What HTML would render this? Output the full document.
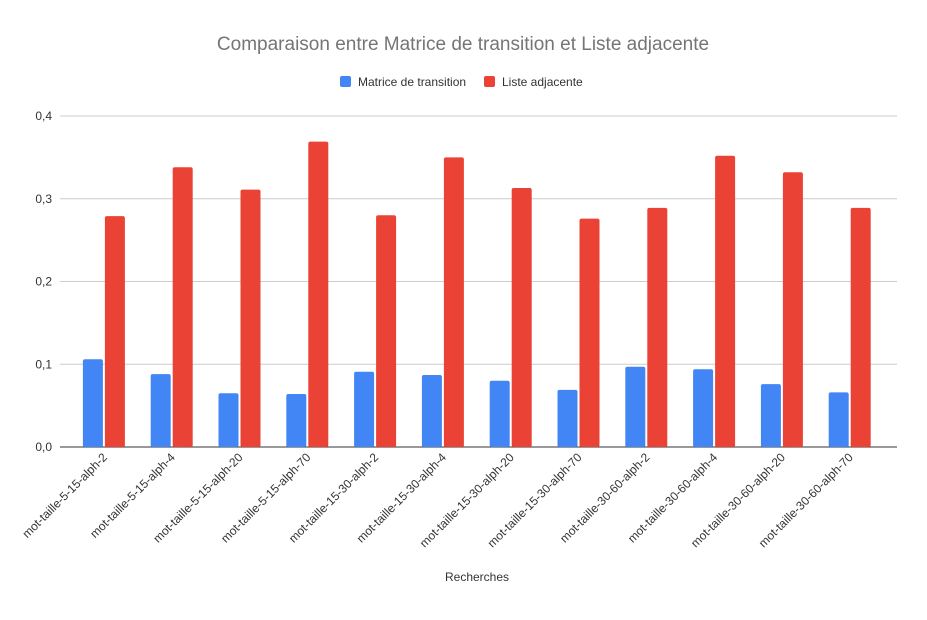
<!DOCTYPE html>
<html><head><meta charset="utf-8"><style>
body{margin:0;background:#fff;font-family:"Liberation Sans",sans-serif}
</style></head><body>
<svg id="chart" width="927" height="615" xmlns="http://www.w3.org/2000/svg">
<rect width="927" height="615" fill="#fff"/>
<text x="463" y="50" text-anchor="middle" font-size="19" fill="#757575">Comparaison entre Matrice de transition et Liste adjacente</text>
<g>
<rect x="340" y="76" width="11" height="11" rx="2" fill="#4285f4"/>
<text x="358" y="86" font-size="12" fill="#333">Matrice de transition</text>
<rect x="484" y="76" width="11" height="11" rx="2" fill="#ea4335"/>
<text x="502" y="86" font-size="12" fill="#333">Liste adjacente</text>
</g>
<g id="grid"></g><g id="bars"></g><g id="labels"></g>
<text x="477" y="581" text-anchor="middle" font-size="12" fill="#333">Recherches</text>
</svg>
<script>
const categories=["mot-taille-5-15-alph-2","mot-taille-5-15-alph-4","mot-taille-5-15-alph-20","mot-taille-5-15-alph-70","mot-taille-15-30-alph-2","mot-taille-15-30-alph-4","mot-taille-15-30-alph-20","mot-taille-15-30-alph-70","mot-taille-30-60-alph-2","mot-taille-30-60-alph-4","mot-taille-30-60-alph-20","mot-taille-30-60-alph-70"];
const matrice=[0.106,0.088,0.065,0.064,0.091,0.087,0.080,0.069,0.097,0.094,0.076,0.066];
const liste=[0.279,0.338,0.311,0.369,0.280,0.350,0.313,0.276,0.289,0.352,0.332,0.289];
const yTicks=[0,0.1,0.2,0.3,0.4];
const yTickLabels=["0,0","0,1","0,2","0,3","0,4"];
const NS="http://www.w3.org/2000/svg";
const plotL=60,plotR=897,y0=447,yTop=116,yMax=0.4;
const gx0=70,step=67.8;
function y(v){return y0-(v/yMax)*(y0-yTop);}
function xc(i){return gx0+step*(i+0.5);}
function mk(t,a,p){const e=document.createElementNS(NS,t);for(const k in a)e.setAttribute(k,a[k]);p.appendChild(e);return e;}
const grid=document.getElementById('grid'),bars=document.getElementById('bars'),labels=document.getElementById('labels');
yTicks.forEach((v,i)=>{
  const l=mk('line',{x1:plotL,x2:plotR,y1:y(v),y2:y(v),stroke:i===0?'#333':'#ccc','stroke-width':1},grid);
  
  
  const t=mk('text',{x:52,y:y(v)+4,'text-anchor':'end','font-size':12,fill:'#333'},grid);
  t.textContent=yTickLabels[i];
  
  
});
categories.forEach((c,i)=>{
  const cx=xc(i);
  const b=mk('rect',{x:cx-21,y:y(matrice[i]),width:20,height:y0-y(matrice[i]),fill:'#4285f4',rx:2},bars);
  
  
  const r=mk('rect',{x:cx+1,y:y(liste[i]),width:20,height:y0-y(liste[i]),fill:'#ea4335',rx:2},bars);
  
  
  const t=mk('text',{x:cx+4,y:458,'text-anchor':'end','font-size':12,fill:'#333',transform:`rotate(-45 ${cx+4} 458)`},labels);
  t.textContent=c;
  
  
});
</script>
</body></html>
